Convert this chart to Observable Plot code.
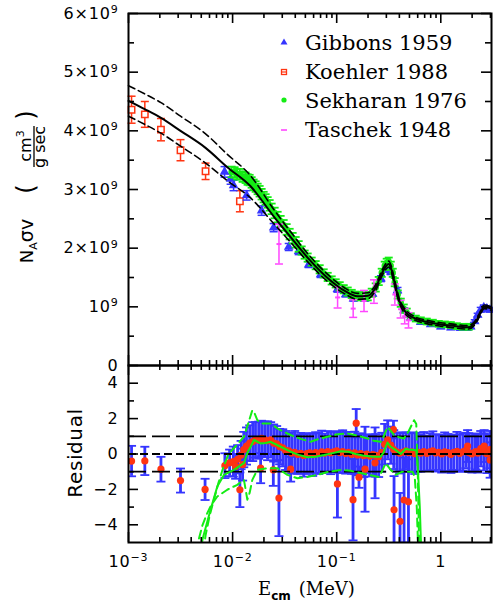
<!DOCTYPE html>
<html>
<head>
<meta charset="utf-8">
<script src="https://cdn.jsdelivr.net/npm/d3@7"></script>
<script src="https://cdn.jsdelivr.net/npm/@observablehq/plot@0.6"></script>
<style>
html,body{margin:0;padding:0;background:#fff;}
#wrap{position:relative;width:493px;height:605px;overflow:hidden;background:#fff;}
#wrap svg{position:absolute;left:0;top:0;}
</style>
</head>
<body>
<div id="wrap"></div>
<script>
// ---------------- DATA ----------------
// Top panel: N_A<sigma v> in units of 1e9 cm^3/(g s); energies in MeV
const modelE     = [0.001,0.00143,0.00205,0.00316,0.0055,0.0089,0.0148,0.0251,0.0361,0.0525,0.0871,0.1175,0.1585,0.1995,0.237,0.275,0.300,0.316,0.335,0.356,0.398,0.46,0.553,0.745,1.0,1.25,1.81,2.09,2.35,2.61,3.07];
const modelRate  = [4.51,4.37,4.22,4.00,3.71,3.38,3.06,2.53,2.19,1.84,1.45,1.28,1.18,1.19,1.33,1.59,1.70,1.73,1.64,1.45,1.11,0.91,0.81,0.74,0.70,0.68,0.65,0.71,0.86,1.00,0.97];
const modelUpper = [4.77,4.63,4.48,4.25,3.95,3.60,3.24,2.65,2.28,1.91,1.51,1.33,1.23,1.24,1.38,1.64,1.75,1.78,1.69,1.50,1.15,0.95,0.84,0.77,0.73,0.71,0.68,0.74,0.89,1.03,1.00];
const modelLower = [4.25,4.11,3.96,3.74,3.45,3.15,2.86,2.41,2.10,1.77,1.39,1.23,1.13,1.14,1.28,1.54,1.65,1.68,1.59,1.40,1.07,0.87,0.78,0.71,0.67,0.65,0.62,0.68,0.83,0.97,0.94];

const koehlerE    = [0.00107,0.001435,0.00205,0.00316,0.0055,0.01175];
const koehlerRate = [4.36,4.28,4.02,3.67,3.31,2.80];
const koehlerErr  = [0.23,0.22,0.19,0.18,0.14,0.18];

const gibbonsE    = [0.00837,0.00957,0.01022,0.01364,0.0190,0.0248,0.0346,0.0431,0.0538,0.0701,0.1016,0.122,0.145,0.186,0.221,0.266,0.302,0.331,0.384,0.444,0.515,0.642,0.80,1.0,1.25,1.55,1.79,1.94,2.12,2.26,2.42,2.59,2.77,2.96];
const gibbonsRate = [3.30,3.18,3.07,2.90,2.64,2.35,2.02,1.95,1.72,1.55,1.30,1.21,1.14,1.14,1.22,1.48,1.64,1.60,1.28,0.94,0.82,0.74,0.70,0.66,0.645,0.635,0.635,0.66,0.75,0.86,0.95,0.99,0.97,0.95];
const gibbonsErr  = [0.09,0.09,0.09,0.08,0.08,0.07,0.06,0.06,0.05,0.05,0.05,0.04,0.04,0.04,0.04,0.05,0.05,0.05,0.05,0.04,0.04,0.03,0.03,0.03,0.03,0.03,0.03,0.03,0.03,0.03,0.04,0.04,0.04,0.04];

const sekharanE    = [0.00978,0.01045,0.01105,0.01168,0.01248,0.01334,0.01394,0.01457,0.01523,0.01592,0.01664,0.01739,0.01818,0.01900,0.01987,0.02076,0.02171,0.02269,0.02371,0.02534,0.02708,0.02894,0.03093,0.03305,0.03532,0.03775,0.04035,0.04312,0.04607,0.04923,0.05261,0.05750,0.06283,0.06863,0.07499,0.08194,0.08953,0.09781,0.1069,0.1168,0.1276,0.1394,0.1523,0.1664,0.1818,0.1987,0.2171,0.2371,0.2534,0.2708,0.2894,0.3025,0.3162,0.3305,0.3455,0.3612,0.3860,0.4125,0.4408,0.4710,0.5147,0.5750,0.6422,0.7334,0.8377,0.9567,1.093,1.248,1.425,1.628,1.859];
const sekharanRate = [3.30,3.29,3.26,3.26,3.22,3.20,3.17,3.16,3.12,3.08,3.05,3.01,2.97,2.92,2.87,2.83,2.78,2.73,2.67,2.60,2.53,2.46,2.39,2.32,2.24,2.17,2.10,2.03,1.96,1.89,1.84,1.77,1.71,1.64,1.57,1.51,1.45,1.40,1.35,1.30,1.26,1.22,1.19,1.18,1.18,1.18,1.24,1.33,1.44,1.58,1.70,1.75,1.77,1.70,1.58,1.42,1.21,1.07,0.97,0.90,0.84,0.80,0.77,0.75,0.73,0.71,0.70,0.69,0.67,0.66,0.66];
const sekharanErr  = [0.09,0.09,0.09,0.09,0.09,0.09,0.09,0.09,0.09,0.09,0.09,0.09,0.09,0.09,0.09,0.09,0.09,0.09,0.09,0.09,0.09,0.09,0.09,0.09,0.09,0.09,0.09,0.09,0.07,0.07,0.07,0.07,0.07,0.07,0.07,0.07,0.07,0.07,0.07,0.07,0.07,0.07,0.07,0.07,0.07,0.07,0.07,0.07,0.07,0.07,0.07,0.07,0.07,0.07,0.07,0.07,0.07,0.07,0.07,0.07,0.05,0.05,0.05,0.05,0.05,0.05,0.05,0.05,0.05,0.05,0.05];

const taschekE    = [0.0279,0.102,0.144,0.183,0.228,0.362,0.411,0.45,0.49];
const taschekRate = [2.07,1.16,0.97,1.10,1.26,1.21,0.96,0.84,0.77];
const taschekErr  = [0.34,0.18,0.15,0.18,0.20,0.18,0.15,0.13,0.13];

// Bottom panel: residuals
const bandE   = [0.0128,0.0136,0.0146,0.0156,0.0166,0.0178,0.0190,0.0203,0.0217,0.0232,0.0248,0.0265,0.0283,0.0303,0.0323,0.0346,0.0369,0.0395,0.0422,0.0451,0.0482,0.0515,0.0550,0.0588,0.0628,0.0671,0.0717,0.0767,0.0819,0.0876,0.0936,0.100,0.107,0.114,0.122,0.130,0.139,0.149,0.159,0.170,0.182,0.194,0.208,0.222,0.237,0.253,0.271,0.289,0.309,0.331,0.353,0.378,0.403,0.431,0.461,0.492,0.526,0.562,0.601,0.642,0.686,0.733,0.784,0.838,0.895,0.957,1.02,1.09,1.17,1.25,1.33,1.43,1.52,1.63,1.74,1.86,1.99,2.12,2.27,2.42,2.59,2.77,2.96];
const bandRes = [0.25,0.45,0.62,0.70,0.80,0.78,0.88,0.82,0.75,0.80, 0.62,0.58,0.42,0.35,0.20,0.18,0.05,0.10,-0.02,0.04, -0.08,0.02,0.06,-0.04,0.08,0.02,0.12,0.05,0.14,0.06, 0.12,0.18,0.08,0.14,0.04,0.10,-0.02,0.06,-0.05,0.02, -0.10,0.00,-0.12,-0.04,-0.08,-0.15,0.10,0.55,0.80,0.50, 0.25,0.12,0.05,0.10,0.18,0.08,0.12,0.02,0.10,0.05, 0.14,0.04,0.12,0.18,0.06,0.10,0.00,0.12,0.08,-0.02, 0.10,0.15,0.04,0.12,0.20,0.08,0.00,0.10,0.05,0.30, 0.12,0.02,0.25];
const bandErr = [1.0,1.05,1.0,1.1,1.0,1.05,1.0,1.0,1.1,1.0,1.05,1.0,1.0,1.05,1.1,1.0,
  1.15,1.2,1.1,1.15,1.2,1.15,1.1,1.2,1.15,1.15,1.2,1.1,1.15,1.2,1.15,1.1,1.15,1.2,1.15,1.15,1.1,1.2,1.15,1.15,1.2,1.1,1.15,1.15,1.2,1.15,
  1.1,1.15,1.1,1.05,1.1,1.1,1.15,1.1,1.05,1.1,1.1,1.15,1.1,
  1.05,1.1,1.0,1.05,1.1,1.05,1.0,1.05,1.1,1.05,1.05,1.0,1.1,1.05,1.05,1.0,1.1,1.05,1.05,1.1,1.0,1.05,1.1,1.05];
const outE   = [0.00107,0.001435,0.00205,0.00316,0.00544,0.00843,0.00936,0.01016,0.01069,0.01117,0.01175,0.01207,0.01248,0.01859,0.02462,0.02787,0.03612,0.1016,0.1435,0.1540,0.1638,0.1871,0.2335,0.3509,0.3556,0.4061,0.4437,0.4890,1.81,2.17,2.61,2.98];
const outRes = [-0.40,-0.39,-0.86,-1.50,-2.00,-0.66,-0.50,-0.43,-0.70,-0.30,-2.02,-0.06,-0.60,-0.80,-0.90,-2.49,-0.86,-1.69,-2.58,1.74,-1.31,-0.86,-0.50,1.38,-3.15,-3.80,-2.60,-2.70,0.45,0.13,0.45,-0.34];
const outErr = [0.86,0.80,0.70,0.68,0.60,0.70,0.75,0.85,0.70,0.80,0.98,0.80,0.90,0.85,0.90,2.15,0.70,1.90,2.30,0.80,0.60,2.40,2.00,0.50,1.90,1.60,2.40,2.40,0.90,1.00,0.90,1.00];

const fitE   = [0.00492,0.00515,0.00614,0.00713,0.00825,0.01029,0.01284,0.01394,0.01490,0.01603,0.01701,0.01859,0.02076,0.02320,0.02591,0.02894,0.03612,0.04312,0.05228,0.06283,0.07549,0.09153,0.1093,0.1304,0.1523,0.1778,0.2204,0.2649,0.2831,0.3073,0.3305,0.3693,0.4125,0.4607,0.4923,0.5501,0.5813,0.6009,0.6283,0.6494];
const fitRes = [-5.5,-4.8,-3.15,-1.84,-1.18,-0.9,-0.52,0.1,0.41,0.79,0.72,0.60,0.62,0.69,0.55,0.41,0.13,-0.05,-0.18,-0.15,-0.06,0.05,0.15,0.13,0.0,-0.08,-0.15,-0.15,0.1,0.65,0.41,0.22,0.0,0.3,0.25,0.22,0.2,-0.7,-3.0,-5.5];
const fitHiE = [0.00526,0.00550,0.00601,0.00661,0.00734,0.00820,0.00915,0.01093,0.01284,0.01425,0.01547,0.01627,0.01728,0.01943,0.02320,0.02769,0.03357,0.04035,0.04849,0.05623,0.06713,0.08140,0.09781,0.1267,0.1557,0.1973,0.2269,0.2649,0.2831,0.3073,0.3305,0.3556,0.3948,0.4437,0.4923,0.5538,0.5813,0.6009,0.6214];
const fitHi  = [-5.5,-4.6,-3.5,-2.58,-1.6,-0.7,0.0,0.5,0.97,1.8,2.47,2.3,1.91,1.72,1.72,1.4,1.16,0.95,0.8,0.69,0.85,0.97,1.1,1.16,1.05,0.88,0.75,0.69,1.0,1.53,1.3,1.07,0.95,0.88,1.3,1.91,1.7,-1.0,-5.5];
const fitLoE = [0.00461,0.00474,0.00515,0.00571,0.00628,0.00713,0.00889,0.01110,0.01221,0.01284,0.01334,0.01385,0.01457,0.01547,0.01728,0.02076,0.02690,0.03357,0.04190,0.05147,0.06523,0.08377,0.1093,0.1363,0.1701,0.2123,0.2551,0.2708,0.2959,0.3305,0.3693,0.4282,0.5346,0.5623,0.5878,0.6077];
const fitLo  = [-5.5,-4.8,-4.0,-3.34,-2.85,-2.4,-2.02,-1.74,-1.55,-1.46,-2.0,-2.58,-2.2,-1.46,-0.9,-0.82,-0.8,-1.18,-1.37,-1.3,-1.18,-1.0,-0.9,-0.95,-1.07,-1.2,-1.3,-1.0,-0.52,-0.9,-1.18,-1.0,-1.0,-1.3,-3.0,-5.5];

// ticks and labels
const xMajor = [0.001,0.01,0.1,1];
const xMinor = [0.002,0.003,0.004,0.005,0.006,0.007,0.008,0.009,0.02,0.03,0.04,0.05,0.06,0.07,0.08,0.09,0.2,0.3,0.4,0.5,0.6,0.7,0.8,0.9,2,3];
const xLabels = ["10^−3","10^−2","10^−1","1"];
const topYMajor = [0,1,2,3,4,5,6];
const topYMinor = [0.5,1.5,2.5,3.5,4.5,5.5];
const topYLabels = ["0","10^9","2×10^9","3×10^9","4×10^9","5×10^9","6×10^9"];
const botYMajor = [-4,-2,0,2,4];
const botYMinor = [-3,-1,1,3];
const botYLabels = ["−4","−2","0","2","4"];
const legendNames = ["Gibbons 1959","Koehler 1988","Sekharan 1976","Taschek 1948"];

// ---------------- DRAWING ----------------
const BLUE="#3535ff", RED="#ff3411", GREEN="#14ec14", MAGENTA="#ff46ff";
const W=493,H=605,ML=128,MR=2,TOP=13,MID=365,BOT=542;
const FW=W-ML-MR, FH1=MID-TOP, FH2=BOT-MID;
const xDomain=[0.001,3.07];
const zip=(E,v,e)=>E.map((x,i)=>({E:x,v:v[i],e:e?e[i]:0}));
const cap={draw(ctx,size){const w=Math.sqrt(size/Math.PI);ctx.moveTo(-w,0);ctx.lineTo(w,0);}};
const fmt=(ticks,labels)=>{const m=new Map(ticks.map((t,i)=>[t,labels[i]]));return d=>m.get(d);};

function errorBars(data,color,{sw=1.5,capSw=sw,capR=4,clip=false}={}){
  return [
    Plot.ruleX(data,{x:"E",y1:d=>d.v-d.e,y2:d=>d.v+d.e,stroke:color,strokeWidth:sw,clip}),
    Plot.dot(data,{x:"E",y:d=>d.v+d.e,symbol:cap,r:capR,stroke:color,strokeWidth:capSw,clip}),
    Plot.dot(data,{x:"E",y:d=>d.v-d.e,symbol:cap,r:capR,stroke:color,strokeWidth:capSw,clip})
  ];
}
function frameTicks(fh,yMaj,yMin){
  const tk={stroke:"black",strokeWidth:1.6};
  return [
    Plot.ruleX(xMajor,{x:d=>d,insetTop:fh-10,...tk}),
    Plot.ruleX(xMinor,{x:d=>d,insetTop:fh-5,...tk}),
    Plot.ruleX(xMajor,{x:d=>d,insetBottom:fh-10,...tk}),
    Plot.ruleX(xMinor,{x:d=>d,insetBottom:fh-5,...tk}),
    Plot.ruleY(yMaj,{y:d=>d,insetRight:FW-10,...tk}),
    Plot.ruleY(yMin,{y:d=>d,insetRight:FW-6,...tk}),
    Plot.ruleY(yMaj,{y:d=>d,insetLeft:FW-10,...tk}),
    Plot.ruleY(yMin,{y:d=>d,insetLeft:FW-6,...tk})
  ];
}
const style={background:"transparent",overflow:"visible",fontFamily:"DejaVu Sans, sans-serif",fontSize:"16px",letterSpacing:"0.8px",color:"black"};

const koehler=zip(koehlerE,koehlerRate,koehlerErr);
const gibbons=zip(gibbonsE,gibbonsRate,gibbonsErr);
const sekharan=zip(sekharanE,sekharanRate,sekharanErr);
const taschek=zip(taschekE,taschekRate,taschekErr);
const model=zip(modelE,modelRate), modelHi=zip(modelE,modelUpper), modelLo=zip(modelE,modelLower);

const topPlot=Plot.plot({
  width:W,height:H,marginLeft:ML,marginRight:MR,marginTop:TOP,marginBottom:H-MID,
  x:{type:"log",domain:xDomain,axis:null},
  y:{domain:[0,6]},
  style,
  marks:[
    ...errorBars(koehler,RED),
    Plot.dot(koehler,{x:"E",y:"v",symbol:"square",r:3.6,stroke:RED,fill:"white",strokeWidth:1.5}),
    ...errorBars(gibbons,BLUE),
    Plot.dot(gibbons,{x:"E",y:"v",symbol:"triangle",r:3.6,fill:BLUE}),
    ...errorBars(sekharan,GREEN,{sw:1.8}),
    Plot.dot(sekharan,{x:"E",y:"v",r:3.2,fill:GREEN}),
    ...errorBars(taschek,MAGENTA),
    Plot.dot(taschek,{x:"E",y:"v",symbol:cap,r:2.5,stroke:MAGENTA,strokeWidth:2}),
    Plot.line(modelHi,{x:"E",y:"v",curve:"monotone-x",stroke:"black",strokeWidth:1.6,strokeDasharray:"7,4"}),
    Plot.line(modelLo,{x:"E",y:"v",curve:"monotone-x",stroke:"black",strokeWidth:1.6,strokeDasharray:"7,4"}),
    Plot.line(model,{x:"E",y:"v",curve:"monotone-x",stroke:"black",strokeWidth:2}),
    ...frameTicks(FH1,topYMajor,topYMinor),
    Plot.axisY({ticks:topYMajor,tickFormat:fmt(topYMajor,topYLabels),tickSize:0,tickPadding:10,label:null}),
    Plot.frame({stroke:"black",strokeWidth:2})
  ]
});

const resid=[...zip(bandE,bandRes,bandErr),...zip(outE,outRes,outErr)];
const fit=zip(fitE,fitRes), fitH=zip(fitHiE,fitHi), fitL=zip(fitLoE,fitLo);

const botPlot=Plot.plot({
  width:W,height:H,marginLeft:ML,marginRight:MR,marginTop:MID,marginBottom:H-BOT,
  x:{type:"log",domain:xDomain},
  y:{domain:[-5,5]},
  style,
  marks:[
    ...errorBars(resid,BLUE,{sw:2.8,capSw:1.8,capR:4.5,clip:true}),
    Plot.dot(resid,{x:"E",y:"v",r:3.6,fill:RED,clip:true}),
    Plot.ruleY([1,-1],{y:d=>d,stroke:"black",strokeWidth:1.8,strokeDasharray:"18,6"}),
    Plot.ruleY([0],{y:d=>d,stroke:"black",strokeWidth:1.8,strokeDasharray:"8,4"}),
    Plot.line(fitL,{x:"E",y:"v",stroke:GREEN,strokeWidth:2,strokeDasharray:"8,5",clip:true}),
    Plot.line(fitH,{x:"E",y:"v",stroke:GREEN,strokeWidth:2,strokeDasharray:"8,5",clip:true}),
    Plot.line(fit,{x:"E",y:"v",stroke:GREEN,strokeWidth:2,clip:true}),
    ...frameTicks(FH2,botYMajor,botYMinor),
    Plot.axisY({ticks:botYMajor,tickFormat:fmt(botYMajor,botYLabels),tickSize:0,tickPadding:10,label:null}),
    Plot.axisX({ticks:xMajor,tickFormat:fmt(xMajor,xLabels),tickSize:0,tickPadding:13,label:null}),
    Plot.frame({stroke:"black",strokeWidth:2})
  ]
});

function supers(svg){
  d3.select(svg).selectAll("text").each(function(){
    const t=this.textContent;
    if(!t.includes("^")) return;
    const [base,exp]=t.split("^");
    const s=d3.select(this); s.text(null);
    s.append("tspan").text(base);
    s.append("tspan").attr("dy","-0.5em").attr("font-size","11px").text(exp);
  });
}
const wrap=document.getElementById("wrap");
wrap.appendChild(topPlot); wrap.appendChild(botPlot);
supers(topPlot); supers(botPlot);

// titles and legend
const ov=d3.select(wrap).append("svg").attr("width",W).attr("height",H);
const SANS="DejaVu Sans, sans-serif", SERIF="DejaVu Serif, serif";
function rot(x,y,size,fam){return ov.append("text").attr("transform",`translate(${x},${y}) rotate(-90)`).attr("text-anchor","middle").attr("font-family",fam).attr("font-size",size).attr("fill","black");}
let t=rot(33,241,18,SANS);
t.append("tspan").text("N"); t.append("tspan").attr("font-size",11).attr("dy",4).text("A"); t.append("tspan").attr("dy",-4).attr("font-size",19).text("σv");
rot(34,189,24,SANS).text("(");
rot(34,115,24,SANS).text(")");
t=rot(31,146,16,SANS); t.append("tspan").text("cm"); t.append("tspan").attr("font-size",11).attr("dy",-7).text("3");
rot(45,147,16,SANS).text("g sec");
ov.append("line").attr("x1",34).attr("x2",34).attr("y1",126).attr("y2",167).attr("stroke","black").attr("stroke-width",1.3);
rot(82,453,20,SANS).attr("letter-spacing","0.6px").text("Residual");
t=ov.append("text").attr("x",258).attr("y",595).attr("font-family",SERIF).attr("font-size",18).attr("fill","black");
t.append("tspan").text("E");
t.append("tspan").attr("font-size",12).attr("font-weight","bold").attr("font-family",SANS).attr("dy",5).text("cm");
t.append("tspan").attr("dy",-5).attr("dx",8).text("(MeV)");

const LX=284, TX=305, base=[50,79,108,137], my=[42,72,100,130];
ov.append("path").attr("d",`M${LX},${my[0]-3.5}L${LX+3.5},${my[0]+2.5}L${LX-3.5},${my[0]+2.5}Z`).attr("fill",BLUE);
ov.append("rect").attr("x",LX-2.5).attr("y",my[1]-2.5).attr("width",5).attr("height",5).attr("fill","white").attr("stroke",RED).attr("stroke-width",1.3);
ov.append("line").attr("x1",LX-2.5).attr("x2",LX+2.5).attr("y1",my[1]).attr("y2",my[1]).attr("stroke",RED).attr("stroke-width",1.2);
ov.append("circle").attr("cx",LX).attr("cy",my[2]).attr("r",2.6).attr("fill",GREEN);
ov.append("line").attr("x1",LX-3).attr("x2",LX+3).attr("y1",my[3]).attr("y2",my[3]).attr("stroke",MAGENTA).attr("stroke-width",1.6);
legendNames.forEach((n,i)=>ov.append("text").attr("x",TX).attr("y",base[i]).attr("font-family",SERIF).attr("font-size",21).attr("fill","black").text(n));
</script>
</body>
</html>
